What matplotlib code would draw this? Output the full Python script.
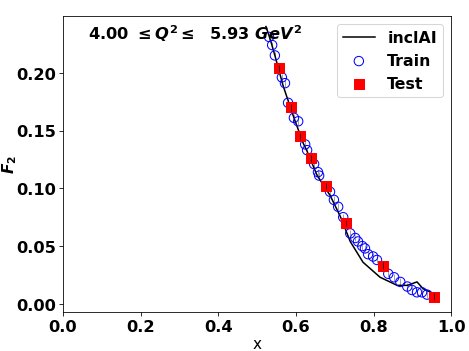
import matplotlib
matplotlib.use('Agg')
import matplotlib.pyplot as plt

plt.rcParams['mathtext.fontset'] = 'custom'
plt.rcParams['mathtext.it'] = 'DejaVu Sans:italic:bold'
plt.rcParams['mathtext.rm'] = 'DejaVu Sans:bold'
plt.rcParams['mathtext.bf'] = 'DejaVu Sans:bold'

# inclAI curve
line_x = [0.523, 0.534, 0.546, 0.567, 0.593, 0.619, 0.629, 0.655, 0.688, 0.714,
          0.719, 0.740, 0.773, 0.817, 0.861, 0.887, 0.912, 0.928, 0.954]
line_y = [0.240, 0.229, 0.215, 0.189, 0.163, 0.139, 0.132, 0.111, 0.094, 0.076,
          0.072, 0.054, 0.036, 0.023, 0.016, 0.016, 0.019, 0.013, 0.009]

# training points
train_x = [0.531, 0.539, 0.546, 0.564, 0.572, 0.580, 0.595, 0.606, 0.624, 0.629,
           0.647, 0.657, 0.660, 0.688, 0.698, 0.709, 0.722, 0.740, 0.753, 0.760,
           0.771, 0.778, 0.786, 0.799, 0.809, 0.838, 0.853, 0.869, 0.887, 0.899,
           0.912, 0.925, 0.938]
train_y = [0.231, 0.224, 0.215, 0.196, 0.191, 0.174, 0.161, 0.158, 0.138, 0.133,
           0.121, 0.114, 0.111, 0.097, 0.090, 0.084, 0.075, 0.061, 0.057, 0.054,
           0.050, 0.048, 0.043, 0.041, 0.038, 0.026, 0.023, 0.019, 0.015, 0.012,
           0.010, 0.010, 0.008]

# test points
test_x = [0.557, 0.588, 0.611, 0.639, 0.678, 0.729, 0.825, 0.956]
test_y = [0.204, 0.170, 0.145, 0.126, 0.102, 0.070, 0.033, 0.006]

train_err = [0.003] * len(train_x)
test_err = [0.003] * len(test_x)

fig = plt.figure(figsize=(6.4, 4.8), dpi=469 / 6.4)
ax = fig.add_axes([0.134, 0.111, 0.828, 0.841])

ax.errorbar(train_x, train_y, yerr=train_err, fmt='none', ecolor='gray',
            elinewidth=0.7, zorder=1)
ax.errorbar(test_x, test_y, yerr=test_err, fmt='none', ecolor='black',
            elinewidth=0.7, zorder=4)
ax.plot(line_x, line_y, color='black', lw=1.5, label='inclAI', zorder=2)
ax.scatter(train_x, train_y, facecolors='none', edgecolors='blue', s=85,
           linewidths=1.0, label='Train', zorder=3)
ax.scatter(test_x, test_y, color='red', marker='s', s=80, label='Test', zorder=3)

ax.set_xlim(0, 1.0)
ax.set_ylim(-0.007, 0.249)
ax.set_xticks([0.0, 0.2, 0.4, 0.6, 0.8, 1.0])
ax.set_yticks([0.0, 0.05, 0.10, 0.15, 0.20])
ax.set_yticklabels(['0.00', '0.05', '0.10', '0.15', '0.20'])
for lab in ax.get_xticklabels() + ax.get_yticklabels():
    lab.set_fontweight('bold')
    lab.set_fontsize(16)

ax.set_xlabel('x', fontsize=15, labelpad=2)
ax.set_ylabel(r'$F_2$', fontsize=15)
ax.yaxis.set_label_coords(-0.112, 0.5)
ax.text(0.065, 0.945, r'4.00 $\leq Q^2 \leq$  5.93 $GeV^2$', transform=ax.transAxes,
        fontsize=16, fontweight='bold', va='center')

leg = ax.legend(loc='upper right', prop={'weight': 'bold', 'size': 15.5})

fig.savefig('out.png', dpi=469 / 6.4)
